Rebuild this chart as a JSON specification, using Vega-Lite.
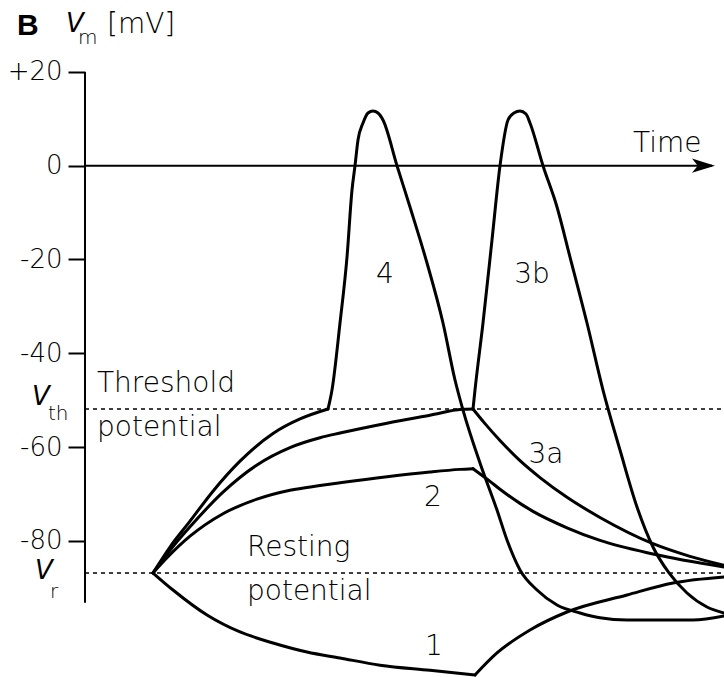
{
  "$schema": "https://vega.github.io/schema/vega-lite/v6.json",
  "width": 639,
  "height": 677,
  "padding": {"left": 85, "right": 0, "top": 0, "bottom": 0},
  "autosize": {"type": "none"},
  "background": "white",
  "config": {"view": {"stroke": null}},
  "datasets": {
    "curves": [
      {"series": "1 down", "t": 153, "v": -86.84},
      {"series": "1 down", "t": 173, "v": -90.47},
      {"series": "1 down", "t": 207, "v": -95.8},
      {"series": "1 down", "t": 240, "v": -99.42},
      {"series": "1 down", "t": 273, "v": -101.77},
      {"series": "1 down", "t": 307, "v": -103.69},
      {"series": "1 down", "t": 340, "v": -104.97},
      {"series": "1 down", "t": 380, "v": -106.5},
      {"series": "1 down", "t": 430, "v": -107.6},
      {"series": "1 down", "t": 475, "v": -108.59},
      {"series": "1 up", "t": 475, "v": -108.59},
      {"series": "1 up", "t": 497, "v": -103.9},
      {"series": "1 up", "t": 530, "v": -99.0},
      {"series": "1 up", "t": 567, "v": -95.16},
      {"series": "1 up", "t": 627, "v": -91.54},
      {"series": "1 up", "t": 673, "v": -88.98},
      {"series": "1 up", "t": 724, "v": -87.7},
      {"series": "2 up", "t": 153, "v": -86.84},
      {"series": "2 up", "t": 167, "v": -83.6},
      {"series": "2 up", "t": 190, "v": -79.0},
      {"series": "2 up", "t": 223, "v": -74.2},
      {"series": "2 up", "t": 257, "v": -71.1},
      {"series": "2 up", "t": 290, "v": -69.2},
      {"series": "2 up", "t": 320, "v": -68.2},
      {"series": "2 up", "t": 340, "v": -67.6},
      {"series": "2 up", "t": 387, "v": -66.3},
      {"series": "2 up", "t": 430, "v": -65.3},
      {"series": "2 up", "t": 460, "v": -64.75},
      {"series": "2 up", "t": 473, "v": -64.6},
      {"series": "2 down", "t": 473, "v": -64.6},
      {"series": "2 down", "t": 490, "v": -67.3},
      {"series": "2 down", "t": 500, "v": -69.0},
      {"series": "2 down", "t": 520, "v": -72.0},
      {"series": "2 down", "t": 533, "v": -73.7},
      {"series": "2 down", "t": 567, "v": -77.2},
      {"series": "2 down", "t": 600, "v": -79.9},
      {"series": "2 down", "t": 653, "v": -82.8},
      {"series": "2 down", "t": 724, "v": -85.57},
      {"series": "3", "t": 153, "v": -86.84},
      {"series": "3", "t": 170, "v": -82.0},
      {"series": "3", "t": 190, "v": -77.0},
      {"series": "3", "t": 223, "v": -69.6},
      {"series": "3", "t": 257, "v": -63.8},
      {"series": "3", "t": 290, "v": -60.1},
      {"series": "3", "t": 320, "v": -58.0},
      {"series": "3", "t": 340, "v": -57.0},
      {"series": "3", "t": 387, "v": -54.9},
      {"series": "3", "t": 430, "v": -53.2},
      {"series": "3", "t": 462, "v": -51.95},
      {"series": "3", "t": 473, "v": -51.88},
      {"series": "3a", "t": 473, "v": -51.88},
      {"series": "3a", "t": 485, "v": -55.0},
      {"series": "3a", "t": 500, "v": -58.6},
      {"series": "3a", "t": 520, "v": -62.9},
      {"series": "3a", "t": 540, "v": -66.5},
      {"series": "3a", "t": 567, "v": -70.7},
      {"series": "3a", "t": 600, "v": -75.0},
      {"series": "3a", "t": 653, "v": -80.6},
      {"series": "3a", "t": 690, "v": -83.3},
      {"series": "3a", "t": 724, "v": -85.2},
      {"series": "3b", "t": 473, "v": -51.88},
      {"series": "3b", "t": 475, "v": -47.83},
      {"series": "3b", "t": 483, "v": -33.54},
      {"series": "3b", "t": 492, "v": -15.84},
      {"series": "3b", "t": 500, "v": 0},
      {"series": "3b", "t": 508, "v": 9.74},
      {"series": "3b", "t": 514, "v": 11.24},
      {"series": "3b", "t": 520, "v": 11.66},
      {"series": "3b", "t": 526, "v": 11.02},
      {"series": "3b", "t": 530, "v": 9.1},
      {"series": "3b", "t": 543, "v": 0},
      {"series": "3b", "t": 557, "v": -8.81},
      {"series": "3b", "t": 570, "v": -19.47},
      {"series": "3b", "t": 587, "v": -33.54},
      {"series": "3b", "t": 603, "v": -47.83},
      {"series": "3b", "t": 620, "v": -60.62},
      {"series": "3b", "t": 637, "v": -72.77},
      {"series": "3b", "t": 653, "v": -81.3},
      {"series": "3b", "t": 669, "v": -86.84},
      {"series": "3b", "t": 687, "v": -91.11},
      {"series": "3b", "t": 707, "v": -94.09},
      {"series": "3b", "t": 724, "v": -95.37},
      {"series": "4 up", "t": 153, "v": -86.84},
      {"series": "4 up", "t": 170, "v": -81.3},
      {"series": "4 up", "t": 190, "v": -75.8},
      {"series": "4 up", "t": 213, "v": -69.4},
      {"series": "4 up", "t": 240, "v": -63.0},
      {"series": "4 up", "t": 273, "v": -57.1},
      {"series": "4 up", "t": 300, "v": -54.0},
      {"series": "4 up", "t": 328, "v": -51.88},
      {"series": "4 spike", "t": 328, "v": -51.88},
      {"series": "4 spike", "t": 332, "v": -47.83},
      {"series": "4 spike", "t": 340, "v": -33.54},
      {"series": "4 spike", "t": 347, "v": -19.47},
      {"series": "4 spike", "t": 352, "v": -5.18},
      {"series": "4 spike", "t": 355, "v": 0},
      {"series": "4 spike", "t": 358, "v": 5.48},
      {"series": "4 spike", "t": 363, "v": 9.1},
      {"series": "4 spike", "t": 368, "v": 11.24},
      {"series": "4 spike", "t": 373, "v": 11.66},
      {"series": "4 spike", "t": 378, "v": 11.24},
      {"series": "4 spike", "t": 383, "v": 9.74},
      {"series": "4 spike", "t": 397, "v": 0},
      {"series": "4 spike", "t": 410, "v": -8.81},
      {"series": "4 spike", "t": 427, "v": -20.75},
      {"series": "4 spike", "t": 443, "v": -33.54},
      {"series": "4 spike", "t": 455, "v": -45.69},
      {"series": "4 spike", "t": 463, "v": -52.1},
      {"series": "4 spike", "t": 480, "v": -63.39},
      {"series": "4 spike", "t": 497, "v": -73.41},
      {"series": "4 spike", "t": 507, "v": -79.81},
      {"series": "4 spike", "t": 520, "v": -86.2},
      {"series": "4 spike", "t": 537, "v": -90.47},
      {"series": "4 spike", "t": 557, "v": -93.67},
      {"series": "4 spike", "t": 580, "v": -95.37},
      {"series": "4 spike", "t": 600, "v": -96.4},
      {"series": "4 spike", "t": 627, "v": -96.87},
      {"series": "4 spike", "t": 693, "v": -96.87},
      {"series": "4 spike", "t": 724, "v": -96.01}
    ],
    "levels": [
      {"name": "Threshold potential", "t": 85, "t2": 724, "v": -51.88},
      {"name": "Resting potential", "t": 85, "t2": 724, "v": -86.84}
    ],
    "axes": [
      {"name": "Vm axis", "t": 85, "t2": 85, "v": 20, "v2": -93.2},
      {"name": "Time axis", "t": 85, "t2": 712, "v": 0, "v2": 0}
    ],
    "arrow": [{"t": 703.5, "v": 0}],
    "labels": [
      {"label": "Threshold", "t": 97, "v": -48.25},
      {"label": "potential", "t": 97, "v": -57.63},
      {"label": "Resting", "t": 247, "v": -83.22},
      {"label": "potential", "t": 247, "v": -92.6},
      {"label": "Time", "t": 633, "v": 2.92},
      {"label": "[mV]", "t": 107, "v": 28.29}
    ],
    "numbers": [
      {"label": "4", "t": 385, "v": -25.01},
      {"label": "3b", "t": 532, "v": -25.01},
      {"label": "3a", "t": 546, "v": -63.39},
      {"label": "2", "t": 433, "v": -72.56},
      {"label": "1", "t": 434, "v": -104.33}
    ],
    "italicV": [
      {"label": "V", "t": 32, "v": -51.02},
      {"label": "V", "t": 35, "v": -88.12},
      {"label": "V", "t": 66, "v": 28.51}
    ],
    "subscripts": [
      {"label": "th", "t": 48, "v": -54.22},
      {"label": "r", "t": 50, "v": -92.17},
      {"label": "m", "t": 78, "v": 25.95}
    ],
    "panel": [{"label": "B", "t": 17, "v": 27.87}]
  },
  "encoding": {
    "x": {"field": "t", "type": "quantitative", "scale": {"domain": [85, 724], "nice": false, "zero": false}, "axis": null},
    "y": {
      "field": "v", "type": "quantitative",
      "scale": {"domain": [-109.02, 35.33], "nice": false, "zero": false},
      "axis": {
        "values": [20, 0, -20, -40, -60, -80],
        "labelExpr": "datum.value == 20 ? '+20' : '' + datum.value",
        "domain": false, "grid": false, "ticks": true,
        "tickSize": 17, "tickWidth": 2, "tickColor": "black",
        "labelFont": "DejaVu Sans", "labelFontSize": 26, "labelFontWeight": 200, "labelColor": "black",
        "labelPadding": 6, "title": null, "labelBound": false, "labelOverlap": false, "labelFlush": false
      }
    }
  },
  "layer": [
    {
      "data": {"name": "levels"},
      "mark": {"type": "rule", "color": "black", "strokeWidth": 1.5, "strokeDash": [4, 4]},
      "encoding": {"x2": {"field": "t2"}}
    },
    {
      "data": {"name": "axes"},
      "mark": {"type": "rule", "color": "black", "strokeWidth": 2},
      "encoding": {"x2": {"field": "t2"}, "y2": {"field": "v2"}}
    },
    {
      "data": {"name": "arrow"},
      "mark": {"type": "point", "filled": true, "color": "black", "opacity": 1, "size": 529, "shape": "M1,0 L-1,-0.62 L-0.5,0 L-1,0.62 Z"}
    },
    {
      "data": {"name": "curves"},
      "mark": {"type": "line", "color": "black", "strokeWidth": 3, "interpolate": "monotone", "strokeJoin": "round", "strokeCap": "round"},
      "encoding": {"detail": {"field": "series"}}
    },
    {
      "data": {"name": "labels"},
      "mark": {"type": "text", "font": "DejaVu Sans", "fontSize": 28, "fontWeight": 200, "align": "left", "baseline": "alphabetic", "color": "black"},
      "encoding": {"text": {"field": "label"}}
    },
    {
      "data": {"name": "numbers"},
      "mark": {"type": "text", "font": "DejaVu Sans", "fontSize": 28, "fontWeight": 200, "align": "center", "baseline": "alphabetic", "color": "black"},
      "encoding": {"text": {"field": "label"}}
    },
    {
      "data": {"name": "italicV"},
      "mark": {"type": "text", "font": "DejaVu Sans", "fontSize": 26, "fontWeight": 200, "fontStyle": "italic", "align": "left", "baseline": "alphabetic", "color": "black"},
      "encoding": {"text": {"field": "label"}}
    },
    {
      "data": {"name": "subscripts"},
      "mark": {"type": "text", "font": "DejaVu Sans", "fontSize": 20, "fontWeight": 200, "align": "left", "baseline": "alphabetic", "color": "black"},
      "encoding": {"text": {"field": "label"}}
    },
    {
      "data": {"name": "panel"},
      "mark": {"type": "text", "font": "Liberation Sans Narrow, Liberation Sans", "fontSize": 30, "fontWeight": "bold", "align": "left", "baseline": "alphabetic", "color": "black"},
      "encoding": {"text": {"field": "label"}}
    }
  ]
}
